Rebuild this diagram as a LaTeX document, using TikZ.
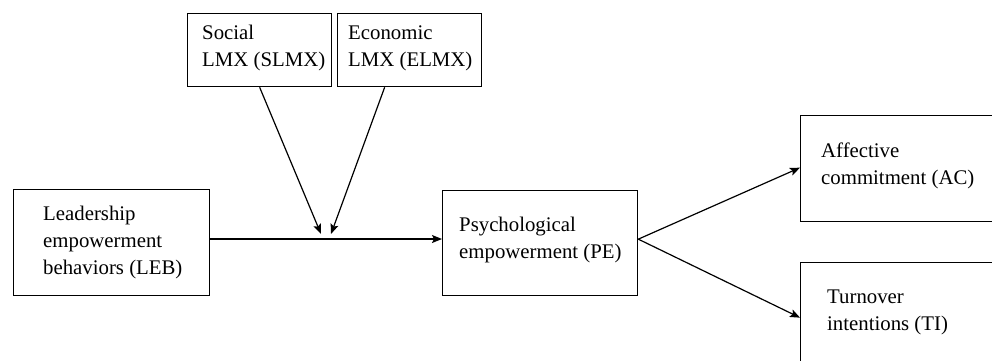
\documentclass[tikz,border=0pt]{standalone}
\usepackage{fontspec}
\setmainfont{Liberation Serif}
\usetikzlibrary{arrows.meta}
\begin{document}
\begin{tikzpicture}[x=1pt,y=1pt,
  box/.style={draw, line width=1.3pt, rectangle, anchor=north west, inner sep=0pt},
  txt/.style={anchor=west, font=\fontsize{20.8}{27}\selectfont, align=left, inner sep=0pt},
  arr/.style={line width=1.2pt, -{Stealth[length=10pt,width=8pt,inset=2pt]}}]
\useasboundingbox (0,0) rectangle (992,-360);
\clip (0,0) rectangle (992,-360);
\node[box, minimum width=144, minimum height=73] (soc) at (187,-13) {};
\node[box, minimum width=144, minimum height=73] (eco) at (337,-13) {};
\node[box, minimum width=196, minimum height=106] (leb) at (13,-189) {};
\node[box, minimum width=195, minimum height=105] (pe) at (442,-190) {};
\node[box, minimum width=210, minimum height=106] (ac) at (800,-115) {};
\node[box, minimum width=210, minimum height=106] (ti) at (800,-262) {};
\node[txt] (soct) at ([xshift=15pt,yshift=2pt]soc.west) {Social\\LMX (SLMX)};
\node[txt] (ecot) at ([xshift=11pt,yshift=2pt]eco.west) {Economic\\LMX (ELMX)};
\node[txt] (lebt) at ([xshift=30pt,yshift=0pt]leb.west) {Leadership\\empowerment\\behaviors (LEB)};
\node[txt] (pet) at ([xshift=17pt,yshift=3pt]pe.west) {Psychological\\empowerment (PE)};
\node[txt] (act) at ([xshift=21pt,yshift=3pt]ac.west) {Affective\\commitment (AC)};
\node[txt] (tit) at ([xshift=27pt,yshift=3pt]ti.west) {Turnover\\intentions (TI)};
\coordinate (j) at (326,-239);
\coordinate (jl) at (321,-234);
\coordinate (jr) at (331,-234);
\draw[arr] (leb.east |- j) -- (pe.west |- j);
\draw[arr] (soc.south) -- (jl);
\draw[arr] ([xshift=-25pt]eco.south) -- (jr);
\draw[arr] ([yshift=4pt]pe.east) -- ([yshift=1pt]ac.west);
\draw[arr] ([yshift=4pt]pe.east) -- ([yshift=-2pt]ti.west);
\end{tikzpicture}
\end{document}
